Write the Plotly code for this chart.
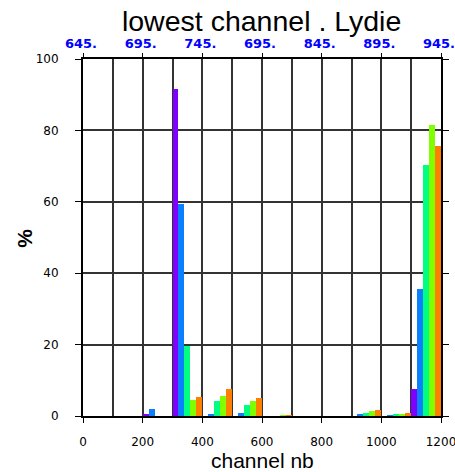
import plotly.graph_objects as go

bins = [50, 150, 250, 350, 450, 550, 650, 750, 850, 950, 1050, 1150]
purple = [0, 0, 0.3, 91.5, 0, 0, 0, 0, 0, 0, 0, 7.6]
blue = [0, 0, 2.0, 59.3, 0.7, 0.8, 0, 0, 0, 0.3, 0.2, 35.6]
green = [0, 0, 0, 19.6, 4.3, 3.2, 0, 0, 0, 0.8, 0.5, 70.2]
lightgreen = [0, 0, 0, 4.6, 5.7, 4.3, 0.25, 0, 0, 1.4, 0.7, 81.4]
orange = [0, 0, 0, 5.3, 7.7, 5.0, 0.25, 0, 0, 1.8, 0.75, 75.7]
series = [purple, blue, green, lightgreen, orange]
colors = ["#8000ff", "#0a80ff", "#00ff80", "#80ff00", "#ff8000"]

bottom_ticks = [0, 200, 400, 600, 800, 1000, 1200]
top_labels = ["645.", "695.", "745.", "695.", "845.", "895.", "945."]

FONT = "Liberation Sans, Arial, sans-serif"
TICKFONT = "DejaVu Sans, sans-serif"

fig = go.Figure()
for vals, c in zip(series, colors):
    fig.add_trace(go.Bar(x=bins, y=vals, marker=dict(color=c, line=dict(width=0)),
                         showlegend=False))
# invisible trace for top axis
fig.add_trace(go.Scatter(x=[0, 1200], y=[0, 0], xaxis="x2", mode="markers",
                         marker=dict(opacity=0), showlegend=False, hoverinfo="skip"))

fig.update_layout(
    width=455, height=472,
    margin=dict(l=83, r=14, t=59, b=56),
    paper_bgcolor="white", plot_bgcolor="white",
    barmode="group", bargap=0, bargroupgap=0,
    title=dict(text="lowest channel . Lydie", x=0.575, xanchor="center",
               y=0.956, yanchor="middle",
               font=dict(family=FONT, size=28.5, color="black")),
    xaxis=dict(range=[0, 1200], tickvals=bottom_ticks, ticks="outside", ticklen=5,
               tickwidth=1, tickcolor="black", automargin=False,
               ticklabeloverflow="allow",
               showline=True, linecolor="black", linewidth=2, mirror=True,
               showgrid=False, ticklabelstandoff=9,
               minor=dict(dtick=100, tick0=0, showgrid=True, gridcolor="#333333",
                          gridwidth=1.5, ticks=""),
               tickfont=dict(family=TICKFONT, size=12, color="black"),
               zeroline=False),
    xaxis2=dict(range=[0, 1200], overlaying="x", side="top", tickvals=bottom_ticks,
                ticktext=top_labels, ticks="outside", ticklen=5, tickcolor="black",
                showgrid=False, showline=False, zeroline=False, automargin=False,
                ticklabeloverflow="allow", ticklabelshift=-2,
                tickfont=dict(family=TICKFONT, size=13, color="#0000ff", weight="bold")),
    yaxis=dict(range=[0, 100], tickvals=[0, 20, 40, 60, 80, 100], ticks="outside",
               ticklen=6, tickcolor="black", ticklabelstandoff=14, automargin=False,
               ticklabeloverflow="allow",
               showline=True, linecolor="black", linewidth=2, mirror="ticks",
               showgrid=True, gridcolor="#333333", gridwidth=1.5, zeroline=False,
               tickfont=dict(family=TICKFONT, size=12, color="black")),
    annotations=[
        dict(text="channel nb", xref="paper", yref="paper", x=0.5, y=-0.124,
             xanchor="center", yanchor="middle", showarrow=False,
             font=dict(family=FONT, size=21, color="black")),
        dict(text="%", xref="paper", yref="paper", x=-0.163, y=0.498,
             xanchor="center", yanchor="middle", showarrow=False, textangle=-90,
             font=dict(family=FONT, size=21, color="black", weight="bold")),
    ],
)

fig.write_html("out.html", config={"displayModeBar": False},
               post_script="document.body.style.margin='0';document.body.style.overflow='hidden';")
